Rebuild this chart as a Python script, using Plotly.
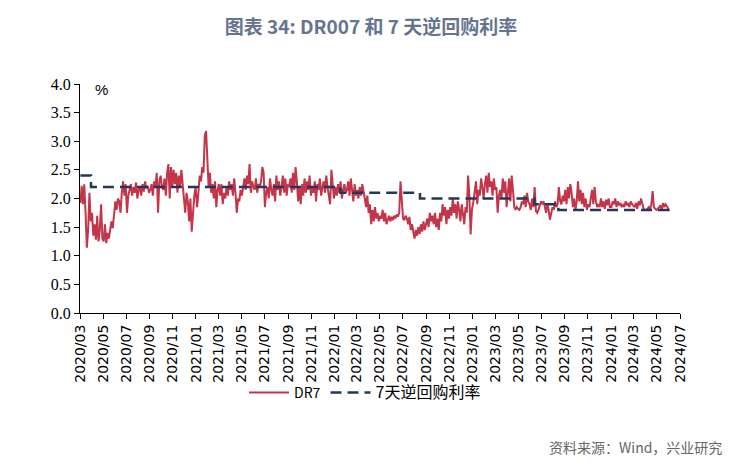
import pandas as pd
import plotly.graph_objects as go

# DR7 (DR007) values, roughly two readings per week
dr7_2020 = [
    1.92, 2.22, 1.90, 2.25, 1.75, 1.14, 1.45, 2.10, 1.60,   # Mar
    1.75, 1.35, 1.55, 1.28, 1.70, 1.25, 1.45, 1.90, 1.30,   # Apr
    1.25, 1.55, 1.22, 1.40, 1.30, 1.50, 1.60, 1.48, 1.75,   # May
    1.95, 1.80, 2.00, 1.95, 1.75, 2.10, 2.30, 2.05, 2.25,   # Jun
    1.75, 2.05, 2.15, 2.25, 2.05, 2.20, 2.10, 2.28, 2.00,   # Jul
    2.15, 2.20, 2.05, 2.25, 2.12, 2.30, 2.18, 2.22, 2.10,   # Aug
    2.15, 2.25, 2.05, 2.30, 2.20, 2.45, 1.75, 2.30, 2.40,   # Sep
    2.20, 2.15, 2.35, 2.05, 2.45, 2.60, 2.00, 2.55, 2.20,   # Oct
    2.50, 2.25, 2.45, 2.10, 2.40, 2.20, 2.50, 2.25, 2.05,   # Nov
    1.75, 2.10, 1.95, 1.60, 2.00, 1.42, 1.75, 2.05, 2.20,   # Dec
]
dr7_2021 = [
    1.85, 2.10, 2.40, 2.30, 2.55, 2.45, 3.10, 3.18, 2.60,   # Jan
    2.20, 2.45, 2.10, 2.25, 2.00, 2.30, 1.85, 2.15, 2.25,   # Feb
    2.05, 2.25, 1.90, 2.10, 2.00, 2.20, 2.05, 2.30, 2.15,   # Mar
    2.25, 2.05, 2.35, 2.10, 1.75, 2.00, 1.95, 2.15, 2.05,   # Apr
    2.20, 2.35, 2.15, 2.40, 2.25, 2.60, 2.10, 2.30, 2.20,   # May
    2.15, 2.35, 2.10, 2.25, 2.20, 2.30, 2.55, 2.45, 1.85,   # Jun
    2.10, 2.20, 2.00, 2.35, 2.15, 2.05, 2.25, 1.95, 2.40,   # Jul
    2.15, 2.30, 2.05, 2.20, 2.40, 2.10, 2.35, 2.05, 2.25,   # Aug
    2.20, 2.35, 2.10, 2.45, 2.15, 2.55, 2.30, 1.95, 2.20,   # Sep
    1.90, 2.25, 2.05, 2.35, 2.10, 2.30, 2.15, 2.40, 2.05,   # Oct
    2.20, 2.10, 2.30, 1.95, 2.25, 2.15, 2.35, 2.05, 2.20,   # Nov
    2.30, 2.10, 2.40, 2.20, 2.05, 1.90, 2.50, 2.15, 2.00,   # Dec
]
dr7_2022 = [
    2.20, 2.05, 2.25, 2.10, 2.30, 2.00, 2.15, 2.25, 2.10,   # Jan
    2.15, 2.30, 2.05, 2.35, 2.10, 1.95, 2.25, 2.05, 2.15,   # Feb
    2.00, 2.20, 2.05, 2.25, 2.15, 2.00, 1.85, 2.05, 1.75,   # Mar
    1.90, 1.55, 1.80, 1.60, 1.85, 1.65, 1.75, 1.60, 1.70,   # Apr
    1.65, 1.80, 1.60, 1.75, 1.55, 1.65, 1.70, 1.60, 1.68,   # May
    1.62, 1.70, 1.65, 1.72, 1.68, 1.75, 2.30, 1.90, 1.65,   # Jun
    1.62, 1.70, 1.65, 1.55, 1.68, 1.45, 1.55, 1.40, 1.30,   # Jul
    1.45, 1.35, 1.50, 1.38, 1.55, 1.42, 1.60, 1.45, 1.55,   # Aug
    1.65, 1.50, 1.75, 1.60, 1.70, 1.55, 1.75, 1.50, 1.65,   # Sep
    1.45, 1.75, 1.60, 1.90, 1.70, 1.85, 1.55, 1.80, 1.65,   # Oct
    1.85, 1.70, 2.00, 1.75, 1.90, 1.65, 1.95, 1.80, 1.60,   # Nov
    1.90, 1.70, 1.55, 1.85, 1.75, 2.40, 2.05, 1.37, 1.80,   # Dec
]
dr7_2023 = [
    1.95, 2.10, 2.30, 1.90, 2.15, 2.05, 2.35, 2.20, 2.00,   # Jan
    2.25, 2.40, 2.10, 2.45, 2.20, 2.30, 2.05, 2.35, 2.15,   # Feb
    2.20, 1.75, 2.05, 2.15, 2.00, 2.35, 2.10, 2.30, 1.85,   # Mar
    2.10, 2.35, 1.95, 2.40, 2.15, 1.85, 1.80, 1.85, 1.82,   # Apr
    1.80, 1.85, 1.95, 1.90, 2.05, 1.85, 2.10, 1.95, 1.90,   # May
    1.80, 2.00, 1.85, 2.20, 1.78, 1.75, 1.80, 1.90, 1.95,   # Jun
    1.90, 1.95, 1.85, 1.75, 1.90, 1.80, 1.63, 1.75, 1.85,   # Jul
    1.80, 1.95, 1.85, 1.90, 2.20, 1.95, 1.90, 2.05, 1.95,   # Aug
    2.15, 1.90, 2.20, 2.00, 2.25, 2.10, 1.85, 2.00, 1.80,   # Sep
    1.95, 2.30, 1.95, 2.15, 1.90, 2.10, 1.85, 2.00, 1.80,   # Oct
    1.90, 1.85, 2.00, 2.15, 1.90, 2.20, 1.95, 1.85, 1.90,   # Nov
    1.85, 2.00, 1.85, 1.95, 1.82, 1.98, 1.88, 2.00, 1.85,   # Dec
]
dr7_2024 = [
    1.85, 1.95, 1.90, 2.00, 1.85, 1.95, 1.88, 1.92, 1.85,   # Jan
    1.90, 1.85, 1.95, 1.88, 1.92, 1.85, 1.95, 1.90, 1.87,   # Feb
    1.85, 1.92, 1.82, 1.95, 1.88, 2.00, 1.90, 1.82, 1.80,   # Mar
    1.80, 1.82, 1.85, 1.80, 1.90, 2.13, 1.85, 1.82, 1.80,   # Apr
    1.82, 1.85, 1.88, 1.80, 1.92, 1.85, 1.90, 1.87, 1.82,   # May
    1.78,                                                   # Jun
]

# 7-day reverse repo policy rate (step changes)
repo_dates = ["2020-03-02", "2020-03-30", "2022-01-17", "2022-08-15",
              "2023-06-13", "2023-08-15", "2024-06-05"]
repo_rates = [2.40, 2.20, 2.10, 2.00, 1.90, 1.80, 1.80]

tick_dates = pd.date_range("2020-03-01", "2024-07-01", freq="2MS")
tick_labels = [d.strftime("%Y/%m") for d in tick_dates]

year_spans = [("2020-03-02", "2020-12-31", dr7_2020),
              ("2021-01-04", "2021-12-31", dr7_2021),
              ("2022-01-04", "2022-12-30", dr7_2022),
              ("2023-01-03", "2023-12-29", dr7_2023),
              ("2024-01-02", "2024-06-03", dr7_2024)]
dr7_dates, dr7_values = [], []
for s, e, vals in year_spans:
    dr7_dates += list(pd.date_range(s, e, periods=len(vals)))
    dr7_values += vals

RED = "#C4354A"
NAVY = "#24375A"

fig = go.Figure()
fig.add_trace(go.Scatter(
    x=dr7_dates, y=dr7_values, mode="lines", name="DR7",
    line=dict(color=RED, width=2)))
fig.add_trace(go.Scatter(
    x=pd.to_datetime(repo_dates), y=repo_rates, mode="lines",
    name="<span style='font-size:16px'>7天逆回购利率</span>",
    line=dict(color=NAVY, width=2.5, dash="11px,6px", shape="hv")))

fig.update_layout(
    width=718, height=456,
    margin=dict(l=72, r=46, t=76, b=151),
    paper_bgcolor="white", plot_bgcolor="white",
    title=dict(text="<b>图表 34: DR007 和 7 天逆回购利率</b>",
               x=0.5056, xanchor="center", y=0.958, yanchor="middle",
               font=dict(family="Noto Sans CJK SC", size=19, color="#66758F")),
    showlegend=True,
    legend=dict(orientation="h", x=0.475, xanchor="center", y=-0.349, yanchor="middle",
                font=dict(family="Noto Sans CJK SC", size=14, color="black"),
                itemwidth=40, tracegroupgap=0, bgcolor="rgba(0,0,0,0)"),
)
fig.update_xaxes(
    type="date", range=["2020-03-01", "2024-07-01"],
    tickvals=tick_dates, ticktext=tick_labels, tickangle=-90,
    showgrid=False, zeroline=False, showline=True, linecolor="black", linewidth=1,
    ticks="outside", ticklen=5, tickcolor="black",
    tickfont=dict(family="DejaVu Sans", size=14, color="black"))
fig.update_yaxes(
    range=[0, 4], tickvals=[0, 0.5, 1, 1.5, 2, 2.5, 3, 3.5, 4],
    ticktext=["0.0", "0.5", "1.0", "1.5", "2.0", "2.5", "3.0", "3.5", "4.0"],
    showgrid=False, zeroline=False, showline=True, linecolor="black", linewidth=1,
    ticks="outside", ticklen=5, tickcolor="black",
    tickfont=dict(family="Liberation Serif, Times New Roman, serif", size=16, color="black"))

fig.add_annotation(text="%", xref="paper", yref="paper", x=0.035, y=0.974,
                   xanchor="center", yanchor="middle", showarrow=False,
                   font=dict(family="Liberation Sans", size=15, color="black"))
fig.add_annotation(text="资料来源：Wind，兴业研究", xref="paper", yref="paper",
                   x=1.073, y=-0.585, xanchor="right", yanchor="middle", showarrow=False,
                   font=dict(family="Noto Sans CJK SC", size=14, color="#666666"))

fig.write_html("out.html")
